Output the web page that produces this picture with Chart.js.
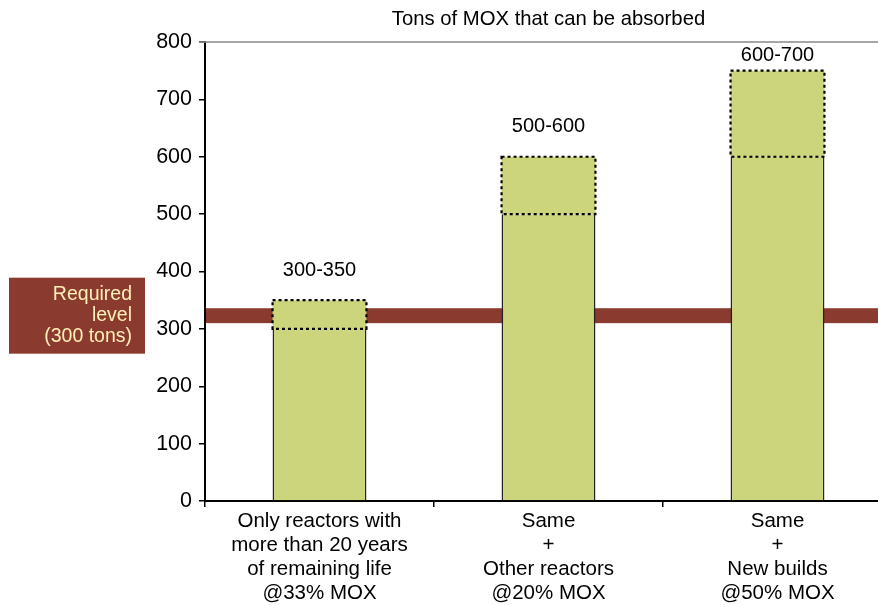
<!DOCTYPE html>
<html>
<head>
<meta charset="utf-8">
<script src="https://cdn.jsdelivr.net/npm/chart.js@4"></script>
<style>
  body { margin: 0; overflow: hidden; background: #fff; }
</style>
</head>
<body>
<canvas id="mox-chart" width="900" height="605"></canvas>
<script>
const categories = [
	["Only reactors with", "more than 20 years", "of remaining life", "@33% MOX"],
	["Same", "+", "Other reactors", "@20% MOX"],
	["Same", "+", "New builds", "@50% MOX"],
];
const baseTons = [300, 500, 600];
const extraTons = [50, 100, 150];
const rangeLabels = ["300-350", "500-600", "600-700"];
const requiredLow = 310;
const requiredHigh = 336;
const requiredText = ["Required", "level", "(300 tons)"];
const chartTitle = "Tons of MOX that can be absorbed";

const barColor = "#CCD47C";
const bandColor = "#8B3A2F";
const FONT = "'Liberation Sans', Arial, sans-serif";

const ctx = document.getElementById("mox-chart");

// red band for the required level, drawn behind the bars
const bandPlugin = {
	id: "band",
	beforeDatasetsDraw(chart) {
		const c = chart.ctx;
		const y = chart.scales.y;
		const top = y.getPixelForValue(requiredHigh);
		const bot = y.getPixelForValue(requiredLow);
		c.save();
		c.fillStyle = bandColor;
		c.fillRect(chart.chartArea.left + 1, top, chart.width, bot - top);
		c.restore();
	},
	afterDraw(chart) {
		const c = chart.ctx;
		const area = chart.chartArea;
		const y = chart.scales.y;
		const mid = (y.getPixelForValue(requiredHigh) + y.getPixelForValue(requiredLow)) / 2;

		c.save();
		// label box on the left
		c.fillStyle = bandColor;
		c.fillRect(9, mid - 38, 136, 76);
		c.fillStyle = "#FFF0B8";
		c.font = "19.5px " + FONT;
		c.textAlign = "right";
		c.textBaseline = "middle";
		requiredText.forEach((t, i) => c.fillText(t, 132, mid - 21 + i * 21));

		// grey top frame line
		c.strokeStyle = "#888";
		c.lineWidth = 1.5;
		c.beginPath();
		c.moveTo(area.left - 6, area.top);
		c.lineTo(chart.width, area.top);
		c.stroke();

		// title
		c.fillStyle = "#000";
		c.font = "20.3px " + FONT;
		c.textAlign = "center";
		c.fillText(chartTitle, (area.left + area.right) / 2, 19);

		// dotted outline for the upper range + range labels
		const meta = chart.getDatasetMeta(1);
		meta.data.forEach((bar, i) => {
			const p = bar.getProps(["x", "y", "base", "width"], true);
			const l = p.x - p.width / 2;
			c.setLineDash([3, 3]);
			c.lineWidth = 2.2;
			c.strokeStyle = "#000";
			c.strokeRect(l, p.y, p.width, p.base - p.y);
			c.setLineDash([]);
			c.fillStyle = "#000";
			c.font = "20px " + FONT;
			const ty = Math.max(p.y - 30, area.top + 13);
			c.fillText(rangeLabels[i], p.x, ty);
		});
		c.restore();
	},
};

new Chart(ctx, {
	type: "bar",
	data: {
		labels: categories,
		datasets: [
			{
				data: baseTons,
				backgroundColor: barColor,
				borderColor: "#222",
				borderWidth: { left: 1.5, right: 1.5, top: 0, bottom: 0 },
				borderSkipped: false,
			},
			{
				data: extraTons,
				backgroundColor: barColor,
				borderWidth: 0,
			},
		],
	},
	options: {
		responsive: false,
		animation: false,
		layout: { padding: { top: 42, right: 8, left: 0, bottom: 0 } },
		datasets: { bar: { categoryPercentage: 1, barPercentage: 0.41 } },
		plugins: {
			legend: { display: false },
			tooltip: { enabled: false },
		},
		scales: {
			x: {
				stacked: true,
				afterFit: (s) => { s.height = 104; },
				grid: { offset: true, drawOnChartArea: false, tickLength: 6, color: "#000", lineWidth: 1.5 },
				border: { color: "#000", width: 2 },
				ticks: { color: "#000", padding: 2, maxRotation: 0, font: { family: FONT, size: 20.5, lineHeight: 1.18 } },
			},
			y: {
				stacked: true,
				min: 0,
				max: 800,
				afterFit: (s) => { s.width = 205; },
				grid: { drawOnChartArea: false, tickLength: 6, color: "#000", lineWidth: 1.5 },
				border: { color: "#000", width: 2 },
				ticks: { stepSize: 100, color: "#000", padding: 7, font: { family: FONT, size: 21.5 } },
			},
		},
	},
	plugins: [bandPlugin],
});
</script>
</body>
</html>
